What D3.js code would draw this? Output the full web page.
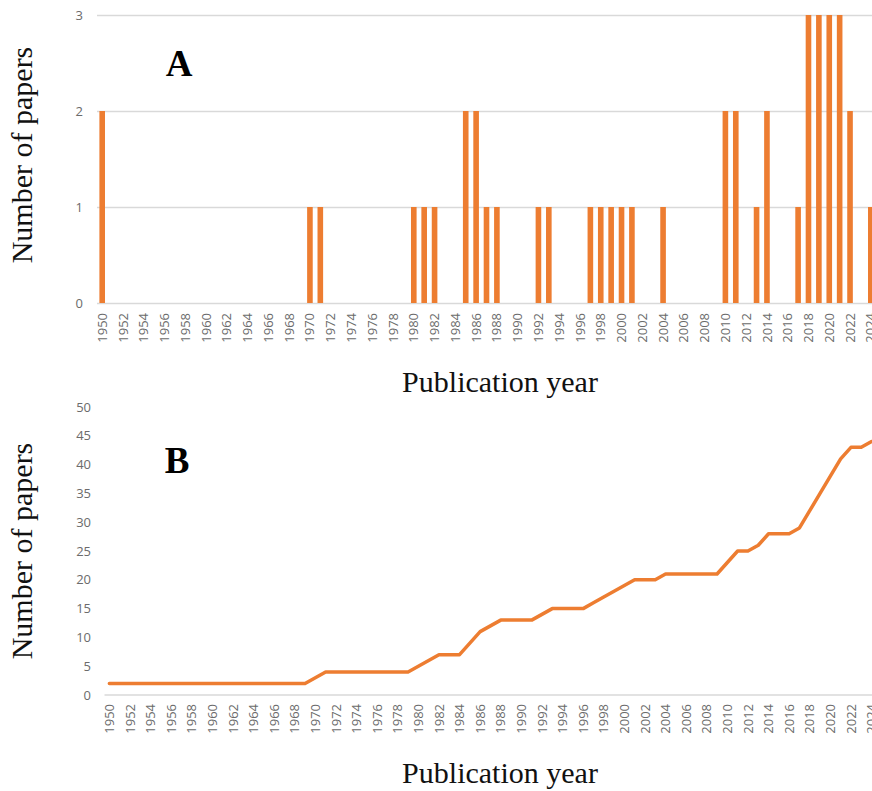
<!DOCTYPE html>
<html>
<head>
<meta charset="utf-8">
<script src="https://cdn.jsdelivr.net/npm/d3@7"></script>
<style>
  html, body { margin: 0; padding: 0; background: #fff; }
  svg { display: block; }
</style>
</head>
<body>
<svg id="chart" width="872" height="791"></svg>
<script>
// ---- data ----
const years = d3.range(1950, 2025).map(String);
// papers per year (panel A), years not listed = 0
const barYears = ["1950","1970","1971","1980","1981","1982","1985","1986","1987","1988","1992","1993","1997","1998","1999","2000","2001","2004","2010","2011","2013","2014","2017","2018","2019","2020","2021","2022","2024"];
const barValues = [2,1,1,1,1,1,2,2,1,1,1,1,1,1,1,1,1,1,2,2,1,2,1,3,3,3,3,2,1];
// cumulative number of papers (panel B), 1950..2024
const cumValues = [
  2,2,2,2,2,2,2,2,2,2, 2,2,2,2,2,2,2,2,2,2,   // 1950-1969
  3,4,4,4,4,4,4,4,4,4,                         // 1970-1979
  5,6,7,7,7,9,11,12,13,13,                     // 1980-1989
  13,13,14,15,15,15,15,16,17,18,               // 1990-1999
  19,20,20,20,21,21,21,21,21,21,               // 2000-2009
  23,25,25,26,28,28,28,29,32,35,               // 2010-2019
  38,41,43,43,44                               // 2020-2024
];
const yTicksA = [0, 1, 2, 3];
const yTicksB = [0, 5, 10, 15, 20, 25, 30, 35, 40, 45, 50];
const xLabel = "Publication year";
const yLabel = "Number of papers";

const orange = "#ED7D31";
const tickColor = "#6b6b6b";
const gridColor = "#d9d9d9";
const tickFont = "'Open Sans', sans-serif";
const serif = "'Liberation Serif', 'Times New Roman', serif";

const svg = d3.select("#chart");
const countMap = new Map(barYears.map((y, i) => [y, barValues[i]]));

// ---------- Panel A ----------
const xA = d3.scaleBand().domain(years).range([97, 876]).paddingInner(0.46).paddingOuter(0.23);
const yA = d3.scaleLinear().domain([0, 3]).range([303, 15]);
const gA = svg.append("g");

const yAxisA = d3.axisLeft(yA).tickValues(yTicksA).tickSize(-(876 - 97)).tickPadding(14).tickFormat(d3.format("d"));
gA.append("g").attr("transform", "translate(97,0)").call(yAxisA)
  .call(g => g.select(".domain").remove())
  .call(g => g.selectAll(".tick line").attr("stroke", gridColor).attr("stroke-width", 1.3))
  .call(g => g.selectAll(".tick text").attr("fill", tickColor).style("font-family", tickFont).style("font-size", "13px"));

gA.append("g").selectAll("rect")
  .data(years.filter(y => countMap.has(y)))
  .join("rect")
  .attr("x", d => xA(d))
  .attr("width", xA.bandwidth())
  .attr("y", d => yA(countMap.get(d)))
  .attr("height", d => yA(0) - yA(countMap.get(d)))
  .attr("fill", orange);

const xAxisA = d3.axisBottom(xA).tickValues(years.filter((d, i) => i % 2 === 0)).tickSize(0).tickPadding(0);
gA.append("g").attr("transform", "translate(0,303)").call(xAxisA)
  .call(g => g.select(".domain").remove())
  .call(g => g.selectAll(".tick text")
    .attr("fill", tickColor).style("font-family", tickFont).style("font-size", "13px")
    .attr("text-anchor", "end").attr("dy", "0.35em").attr("y", 0)
    .attr("transform", "translate(0,10) rotate(-90)"));

svg.append("text").attr("x", 500).attr("y", 392).attr("text-anchor", "middle")
  .style("font-family", serif).style("font-size", "30px").attr("fill", "#111").text(xLabel);
svg.append("text").attr("transform", "translate(32,155) rotate(-90)").attr("text-anchor", "middle")
  .style("font-family", serif).style("font-size", "30px").attr("fill", "#111").text(yLabel);
svg.append("text").attr("x", 179).attr("y", 76).attr("text-anchor", "middle")
  .style("font-family", serif).style("font-size", "37px").style("font-weight", "bold").attr("fill", "#000").text("A");

// ---------- Panel B ----------
const xB = d3.scaleBand().domain(years).range([104.2, 876.7]);
const yB = d3.scaleLinear().domain([0, 50]).range([695, 407]);
const gB = svg.append("g");

const yAxisB = d3.axisLeft(yB).tickValues(yTicksB).tickSize(0).tickPadding(14).tickFormat(d3.format("d"));
gB.append("g").attr("transform", "translate(105,0)").call(yAxisB)
  .call(g => g.select(".domain").remove())
  .call(g => g.selectAll(".tick text").attr("fill", tickColor).style("font-family", tickFont).style("font-size", "13px"));

gB.append("line").attr("x1", 104.5).attr("x2", 876).attr("y1", 695).attr("y2", 695)
  .attr("stroke", gridColor).attr("stroke-width", 1.3);

const xAxisB = d3.axisBottom(xB).tickValues(years.filter((d, i) => i % 2 === 0)).tickSize(0).tickPadding(0);
gB.append("g").attr("transform", "translate(0,695)").call(xAxisB)
  .call(g => g.select(".domain").remove())
  .call(g => g.selectAll(".tick text")
    .attr("fill", tickColor).style("font-family", tickFont).style("font-size", "13px")
    .attr("text-anchor", "end").attr("dy", "0.35em").attr("y", 0)
    .attr("transform", "translate(0,9) rotate(-90)"));

const line = d3.line()
  .x((d, i) => xB(years[i]) + xB.bandwidth() / 2)
  .y(d => yB(d));
gB.append("path").datum(cumValues).attr("d", line)
  .attr("fill", "none").attr("stroke", orange).attr("stroke-width", 3.5)
  .attr("stroke-linejoin", "round").attr("stroke-linecap", "round");

svg.append("text").attr("x", 500).attr("y", 783).attr("text-anchor", "middle")
  .style("font-family", serif).style("font-size", "30px").attr("fill", "#111").text(xLabel);
svg.append("text").attr("transform", "translate(32,551) rotate(-90)").attr("text-anchor", "middle")
  .style("font-family", serif).style("font-size", "30px").attr("fill", "#111").text(yLabel);
svg.append("text").attr("x", 177).attr("y", 473).attr("text-anchor", "middle")
  .style("font-family", serif).style("font-size", "37px").style("font-weight", "bold").attr("fill", "#000").text("B");
</script>
</body>
</html>
